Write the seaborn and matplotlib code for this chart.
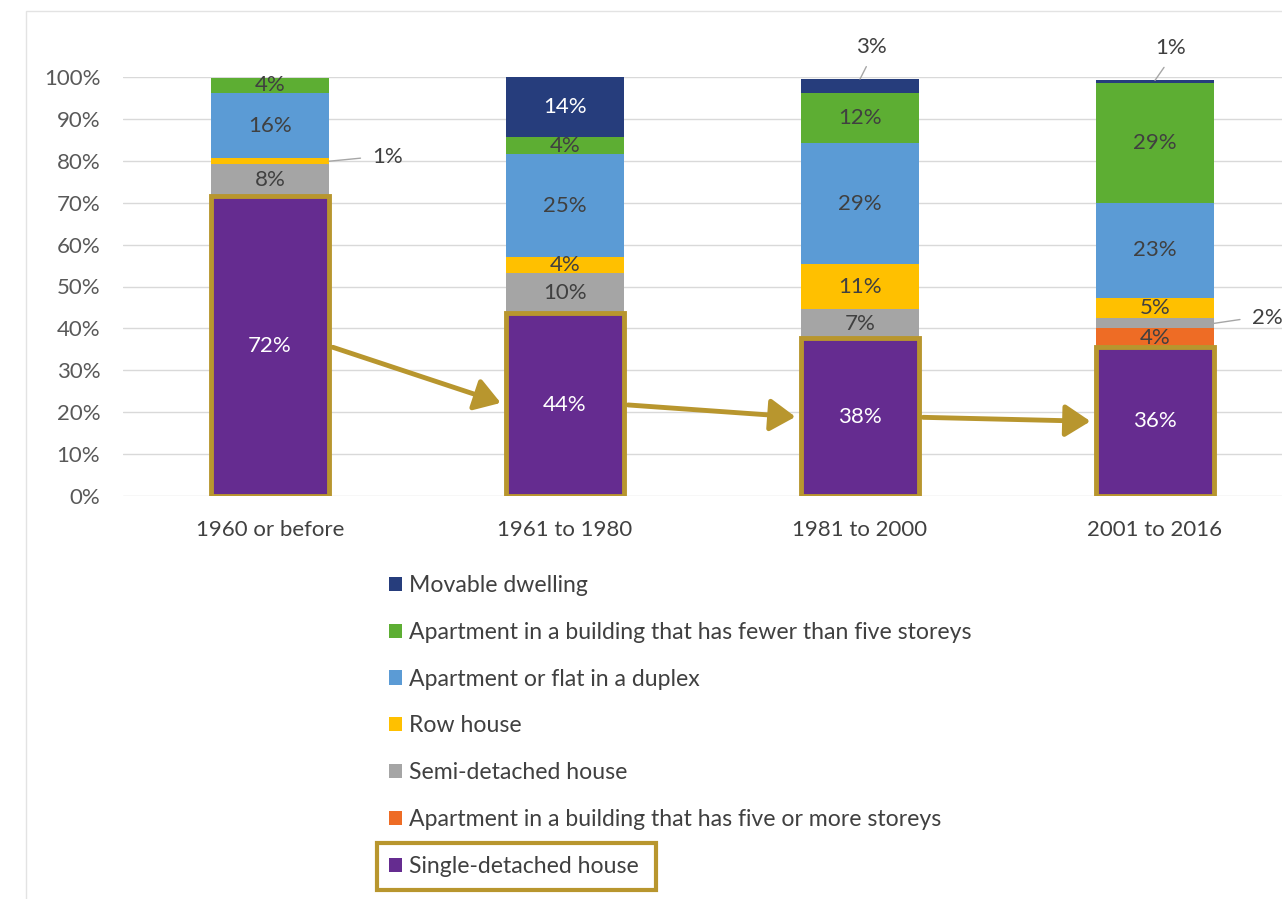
import numpy as np
import seaborn as sns
import matplotlib.pyplot as plt
from matplotlib.patches import Patch, Rectangle

periods = ["1960 or before", "1961 to 1980", "1981 to 2000", "2001 to 2016"]

# share of dwellings (%), listed bottom to top of each bar
single_detached = [71.6, 43.6, 37.6, 35.6]
apt_five_plus = [0.0, 0.0, 0.0, 4.4]
semi_detached = [7.6, 9.6, 7.0, 2.4]
row_house = [1.4, 3.8, 10.7, 4.8]
apt_duplex = [15.6, 24.6, 29.0, 22.8]
apt_under_five = [3.6, 4.0, 12.0, 28.6]
movable = [0.0, 14.4, 3.2, 0.6]

series = [
    ("Single-detached house", single_detached, "#652C90"),
    ("Apartment in a building that has five or more storeys", apt_five_plus, "#EE6C25"),
    ("Semi-detached house", semi_detached, "#A5A5A5"),
    ("Row house", row_house, "#FFC000"),
    ("Apartment or flat in a duplex", apt_duplex, "#5B9BD5"),
    ("Apartment in a building that has fewer than five storeys", apt_under_five, "#5DAE33"),
    ("Movable dwelling", movable, "#263D7C"),
]

GOLD = "#B8962E"
DARK = "#404040"
BAR_W = 0.4
FS = 16

# small segments labelled outside the bar: (series, bar) -> anchor side, text offset in points
callouts = {
    ("Row house", 0): ("right", (31, 3)),
    ("Movable dwelling", 2): ("top", (8, 23)),
    ("Movable dwelling", 3): ("top", (11, 23)),
    ("Semi-detached house", 3): ("right", (27, 4)),
}

sns.set_theme(style="white")
plt.rcParams["font.family"] = ["Lato", "DejaVu Sans"]

fig = plt.figure(figsize=(12.82, 8.99), dpi=100)
ax = fig.add_axes([122.5 / 1282, 1 - 496 / 899, 1180 / 1282, 419 / 899])

bottom = np.zeros(len(periods))
for name, vals, col in series:
    vals = np.array(vals)
    single = name == "Single-detached house"
    sns.barplot(x=periods, y=vals, bottom=bottom, color=col, saturation=1,
                width=BAR_W, errorbar=None, ax=ax,
                edgecolor=GOLD if single else "none",
                linewidth=3.5 if single else 0,
                zorder=3 if single else 2)
    txt_col = "white" if name in ("Single-detached house", "Movable dwelling") else DARK
    for i, v in enumerate(vals):
        if v <= 0:
            continue
        mid = bottom[i] + v / 2
        lbl = f"{v:.0f}%"
        if (name, i) in callouts:
            side, off = callouts[(name, i)]
            if side == "right":
                ax.annotate(lbl, xy=(i + BAR_W / 2, mid), xytext=off,
                            textcoords="offset points", ha="left", va="center",
                            fontsize=FS, color=DARK,
                            arrowprops=dict(arrowstyle="-", color="#A6A6A6", lw=1,
                                            relpos=(0, 0.5), shrinkA=6, shrinkB=0))
            else:
                ax.annotate(lbl, xy=(i, bottom[i] + v), xytext=off,
                            textcoords="offset points", ha="center", va="center",
                            fontsize=FS, color=DARK,
                            arrowprops=dict(arrowstyle="-", color="#A6A6A6", lw=1,
                                            relpos=(0.5, 0), shrinkA=5, shrinkB=0))
        else:
            ax.text(i, mid, lbl, ha="center", va="center", fontsize=FS,
                    color=txt_col, zorder=5)
    bottom += vals

# arrows linking the single-detached shares
for i in range(len(periods) - 1):
    ax.annotate("", xy=(i + 1 - BAR_W / 2, single_detached[i + 1] / 2),
                xytext=(i + BAR_W / 2, single_detached[i] / 2),
                arrowprops=dict(arrowstyle="-|>,head_length=0.7,head_width=0.45",
                                mutation_scale=22, color=GOLD, lw=3.5,
                                shrinkA=3, shrinkB=4), zorder=6)

ax.set_xlim(-0.5, 3.5)
ax.set_ylim(0, 100)
ax.set_yticks(np.arange(0, 101, 10))
ax.set_yticklabels([f"{t}%" for t in range(0, 101, 10)])
ax.yaxis.grid(True, color="#D9D9D9", lw=1)
ax.set_axisbelow(True)
ax.set_xlabel("")
ax.set_ylabel("")
for s in ax.spines.values():
    s.set_visible(False)
ax.tick_params(axis="y", length=0, pad=16, labelsize=FS, labelcolor="#595959")
ax.tick_params(axis="x", length=0, pad=17, labelsize=FS, labelcolor=DARK)

handles = [Patch(facecolor=col, edgecolor="none") for _, _, col in series[::-1]]
labels = [name for name, _, _ in series[::-1]]
leg = fig.legend(handles, labels, loc="upper left",
                 bbox_to_anchor=(389 / 1282, 1 - 575 / 899), frameon=False,
                 fontsize=16.6, labelcolor=DARK, handlelength=0.58, handleheight=0.58,
                 handletextpad=0.3, labelspacing=1.12, borderpad=0, borderaxespad=0)

# gold frame around the single-detached legend entry
fig.canvas.draw()
r = fig.canvas.get_renderer()
tb = leg.get_texts()[-1].get_window_extent(r)
hb = leg.legend_handles[-1].get_window_extent(r)
cy = (tb.y0 + tb.y1) / 2
x0, x1 = hb.x0 - 12, tb.x1 + 17
fig.add_artist(Rectangle((x0 / 1282, (cy - 23.5) / 899), (x1 - x0) / 1282, 47 / 899,
                         transform=fig.transFigure, fill=False, edgecolor=GOLD, lw=3))

# light outer frame of the original graphic
fig.add_artist(Rectangle((26 / 1282, -0.05), 1.2, 1 - 10.5 / 899 + 0.05,
                         transform=fig.transFigure, fill=False, edgecolor="#E3E3E3", lw=1))

fig.savefig("out.png", dpi=100)
